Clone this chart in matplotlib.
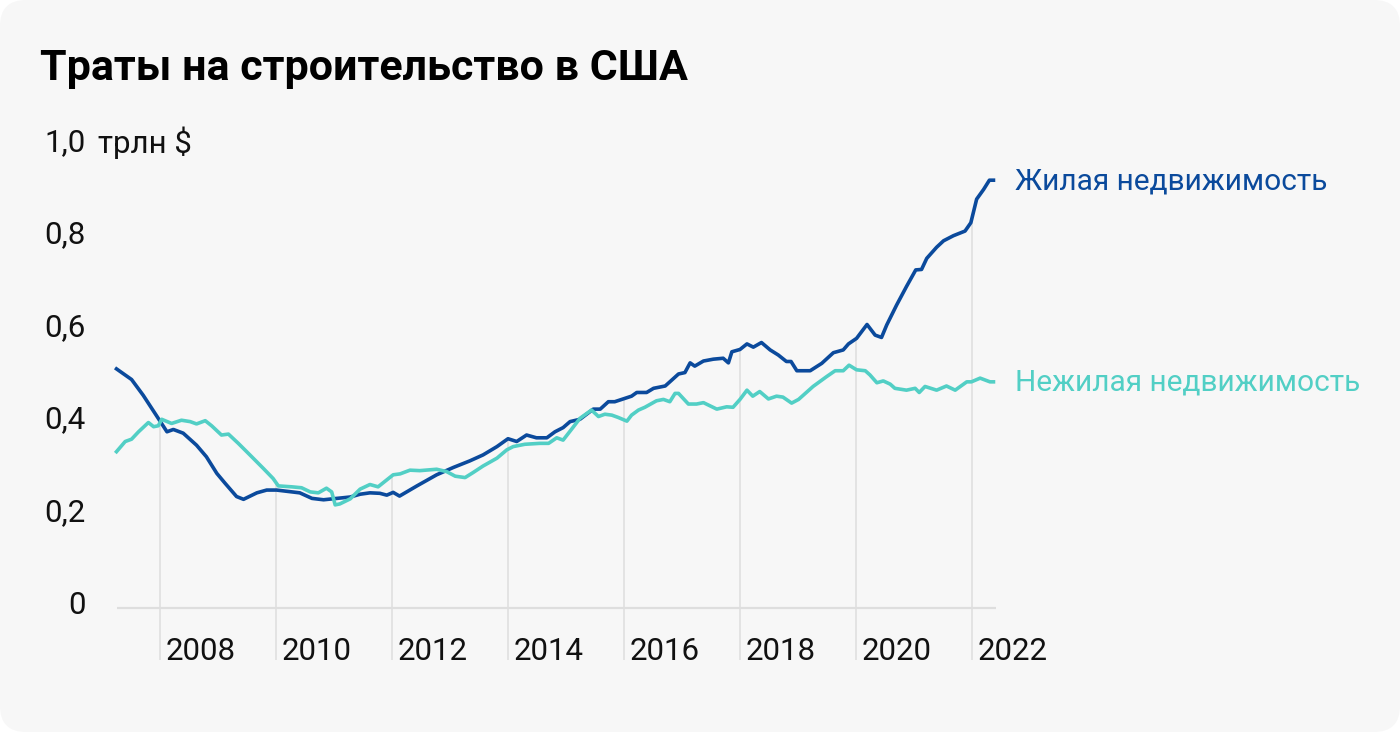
import numpy as np
import matplotlib
matplotlib.use("Agg")
import matplotlib.pyplot as plt
from matplotlib.patches import FancyBboxPatch
from matplotlib.transforms import IdentityTransform, offset_copy

plt.rcParams['font.family'] = ['Roboto', 'DejaVu Sans']

# spending on residential construction, trillion $
res_t = [2007.25, 2007.51, 2007.71, 2007.97,
         2008.12, 2008.23, 2008.40, 2008.63, 2008.80, 2008.98,
         2009.12, 2009.32, 2009.44, 2009.67, 2009.84,
         2010.01, 2010.41, 2010.62, 2010.82,
         2011.05, 2011.28, 2011.45, 2011.62, 2011.79, 2011.91,
         2012.02, 2012.13, 2012.43, 2012.77,
         2013.06, 2013.34, 2013.57, 2013.81,
         2014.00, 2014.15, 2014.32, 2014.49, 2014.67, 2014.81, 2014.95,
         2015.07, 2015.24, 2015.47, 2015.59, 2015.73, 2015.84,
         2016.13, 2016.22, 2016.39, 2016.51, 2016.71, 2016.79, 2016.94,
         2017.05, 2017.14, 2017.22, 2017.37, 2017.54, 2017.71, 2017.80, 2017.86,
         2018.00, 2018.12, 2018.23, 2018.37, 2018.52, 2018.66, 2018.80, 2018.88, 2018.98,
         2019.21, 2019.41, 2019.61, 2019.78, 2019.87,
         2020.01, 2020.19, 2020.33, 2020.44, 2020.53, 2020.70, 2020.87,
         2021.03, 2021.13, 2021.22, 2021.39, 2021.51, 2021.68, 2021.88, 2021.98,
         2022.08, 2022.20, 2022.30, 2022.37]
res_v = [0.517, 0.494, 0.460, 0.410,
         0.381, 0.386, 0.378, 0.352, 0.327, 0.291,
         0.270, 0.241, 0.235, 0.249, 0.255,
         0.255, 0.249, 0.237, 0.234,
         0.237, 0.240, 0.246, 0.249, 0.248, 0.244,
         0.250, 0.242, 0.264, 0.288,
         0.304, 0.318, 0.331, 0.349,
         0.366, 0.360, 0.374, 0.368, 0.368, 0.381, 0.390,
         0.403, 0.408, 0.430, 0.430, 0.446, 0.446,
         0.458, 0.466, 0.466, 0.475, 0.480, 0.489, 0.506,
         0.509, 0.530, 0.523, 0.534, 0.538, 0.540, 0.530, 0.554,
         0.559, 0.571, 0.564, 0.574, 0.558, 0.547, 0.533, 0.533, 0.513,
         0.513, 0.529, 0.552, 0.558, 0.571,
         0.583, 0.613, 0.590, 0.585, 0.612, 0.655, 0.695,
         0.731, 0.732, 0.756, 0.780, 0.794, 0.805, 0.815, 0.833,
         0.884, 0.905, 0.925, 0.925]

# non-residential
com_t = [2007.25, 2007.40, 2007.51, 2007.63, 2007.80, 2007.89, 2007.97,
         2008.03, 2008.20, 2008.37, 2008.52, 2008.63, 2008.78, 2008.89,
         2009.06, 2009.18, 2009.35, 2009.55, 2009.78, 2009.95,
         2010.04, 2010.27, 2010.44, 2010.59, 2010.73, 2010.87, 2010.96,
         2011.02, 2011.10, 2011.28, 2011.45, 2011.62, 2011.76,
         2012.02, 2012.14, 2012.31, 2012.48, 2012.77, 2012.94,
         2013.09, 2013.26, 2013.40, 2013.57, 2013.81, 2013.98,
         2014.09, 2014.29, 2014.55, 2014.70, 2014.84, 2014.95,
         2015.13, 2015.24, 2015.44, 2015.56, 2015.67, 2015.79, 2015.90,
         2016.05, 2016.13, 2016.25, 2016.36, 2016.56, 2016.68, 2016.79, 2016.88, 2016.94,
         2017.11, 2017.25, 2017.37, 2017.60, 2017.77, 2017.88,
         2018.00, 2018.12, 2018.22, 2018.34, 2018.49, 2018.63, 2018.74, 2018.89,
         2019.01, 2019.26, 2019.49, 2019.64, 2019.78, 2019.88,
         2020.01, 2020.16, 2020.24, 2020.36, 2020.47, 2020.59, 2020.67, 2020.87,
         2021.02, 2021.09, 2021.19, 2021.39, 2021.56, 2021.71, 2021.91,
         2021.99, 2022.14, 2022.31, 2022.37]
com_v = [0.338, 0.360, 0.365, 0.381, 0.401, 0.392, 0.394,
         0.408, 0.399, 0.406, 0.403, 0.398, 0.405, 0.394,
         0.374, 0.376, 0.356, 0.331, 0.302, 0.280,
         0.264, 0.262, 0.260, 0.251, 0.249, 0.259, 0.251,
         0.223, 0.225, 0.236, 0.257, 0.267, 0.262,
         0.288, 0.290, 0.298, 0.297, 0.300, 0.295,
         0.285, 0.282, 0.293, 0.307, 0.324, 0.342,
         0.349, 0.354, 0.356, 0.356, 0.368, 0.363,
         0.392, 0.410, 0.428, 0.414, 0.419, 0.417, 0.412,
         0.404, 0.417, 0.428, 0.434, 0.448, 0.451, 0.446, 0.464, 0.464,
         0.441, 0.441, 0.444, 0.430, 0.435, 0.434,
         0.451, 0.471, 0.458, 0.468, 0.452, 0.458, 0.456, 0.443,
         0.451, 0.479, 0.500, 0.513, 0.513, 0.525,
         0.515, 0.513, 0.504, 0.487, 0.491, 0.484, 0.475, 0.471,
         0.475, 0.466, 0.479, 0.471, 0.480, 0.471, 0.489,
         0.489, 0.497, 0.489, 0.489]

y_ticks = [0, 0.2, 0.4, 0.6, 0.8, 1.0]
y_labels = ["0", "0,2", "0,4", "0,6", "0,8", "1,0"]
years = [2008, 2010, 2012, 2014, 2016, 2018, 2020, 2022]

title = "Траты на строительство в США"
res_label = "Жилая недвижимость"
com_label = "Нежилая недвижимость"

BLUE = "#0b4a9c"
TEAL = "#52cfc5"
GRID = "#dedede"
W, H = 1400, 732

fig = plt.figure(figsize=(W / 100, H / 100), dpi=100)
fig.patch.set_facecolor("white")
card = FancyBboxPatch((0, 0), W, H, boxstyle="round,pad=0,rounding_size=26",
                      transform=IdentityTransform(), facecolor="#f7f7f7",
                      edgecolor="none", zorder=-5)
fig.patches.append(card)

# axes over the whole card: 2008 at x=160px, 58px per year, y=0 at 608px, 462.5px per unit
ax = fig.add_axes([0, 0, 1, 1])
ax.set_zorder(2)
ax.set_facecolor("none")
ax.set_xlim(2008 - 160 / 58, 2008 + (W - 160) / 58)
ax.set_ylim((608 - H) / 462.5, 608 / 462.5)
ax.axis("off")

# year gridlines run up to the upper series
tops = [max(np.interp(y, res_t, res_v), np.interp(y, com_t, com_v)) for y in years]
ax.vlines(years, -0.112, tops, color=GRID, lw=1.1, zorder=1)
ax.hlines(0, res_t[0], res_t[-1] + 0.05, color=GRID, lw=1.6, zorder=1)

ax.plot(res_t, res_v, color=BLUE, lw=2.6, solid_joinstyle="round", zorder=3)
ax.plot(com_t, com_v, color=TEAL, lw=2.6, solid_joinstyle="round", zorder=4)

# tick labels sit a little above their values
ytr = offset_copy(ax.get_yaxis_transform(), fig=fig, x=0, y=6, units="dots")
for v, lab in zip(y_ticks, y_labels):
    ax.text(86 / W, v, lab, transform=ytr, ha="right", va="center_baseline",
            fontsize=22.5, color="#111111")
ax.text(98 / W, y_ticks[-1], "трлн $", transform=ytr, ha="left",
        va="center_baseline", fontsize=22.5, color="#111111")

xtr = ax.get_xaxis_transform()
for y in years:
    ax.text(y + 0.1, 1 - 649 / H, str(y), transform=xtr, ha="left",
            va="center_baseline", fontsize=22.5, color="#111111")

ltr = offset_copy(ax.transData, fig=fig, x=0, y=2, units="dots")
ax.text(res_t[-1] + 0.37, res_v[-1], res_label, color=BLUE, fontsize=21.5,
        ha="left", va="center_baseline", transform=ltr)
ax.text(com_t[-1] + 0.37, com_v[-1], com_label, color=TEAL, fontsize=21.5,
        ha="left", va="center_baseline", transform=ltr)

fig.text(40 / W, 1 - 64 / H, title, fontsize=31, fontweight="bold",
         ha="left", va="center_baseline", color="#000000", zorder=3)

fig.savefig("out.png", dpi=100)
